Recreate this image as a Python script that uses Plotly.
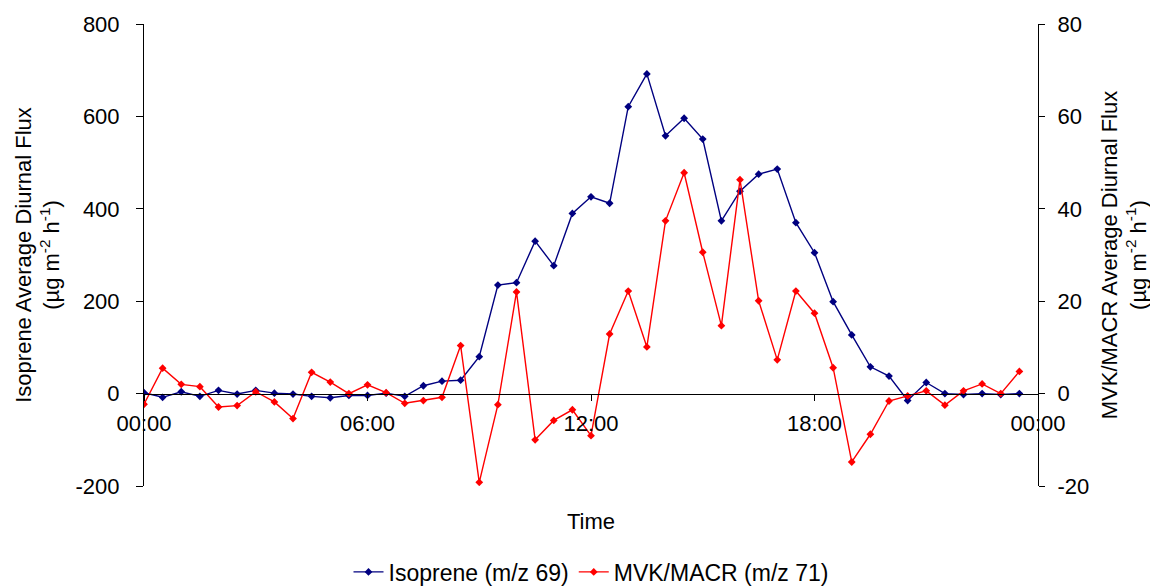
import plotly.graph_objects as go

hours = [0, 0.5, 1, 1.5, 2, 2.5, 3, 3.5, 4, 4.5, 5, 5.5,
         6, 6.5, 7, 7.5, 8, 8.5, 9, 9.5, 10, 10.5, 11, 11.5,
         12, 12.5, 13, 13.5, 14, 14.5, 15, 15.5, 16, 16.5, 17, 17.5,
         18, 18.5, 19, 19.5, 20, 20.5, 21, 21.5, 22, 22.5, 23, 23.5]

isoprene = [2, -8, 4, -6, 7, -1, 7, 1, -1, -6, -9, -4,
            -4, 1, -6, 17, 27, 29, 80, 235, 240, 330, 277, 390,
            426, 412, 621, 692, 558, 596, 551, 374, 438, 475, 486, 370,
            305, 199, 127, 58, 38, -15, 24, 0, -2, 0, -2, 0]

mvk_macr = [-2.3, 5.5, 2.0, 1.5, -2.9, -2.6, 0.4, -1.8, -5.4, 4.6, 2.5, 0.0,
            1.9, 0.2, -2.1, -1.5, -0.8, 10.4, -19.2, -2.4, 22.0, -10.0, -5.8, -3.5,
            -9.1, 12.9, 22.2, 10.1, 37.4, 47.8, 30.6, 14.7, 46.3, 20.1, 7.3, 22.2,
            17.4, 5.6, -14.8, -8.8, -1.6, -0.5, 0.6, -2.5, 0.6, 2.1, 0.0, 4.8]

x_tickvals = [0, 6, 12, 18, 24]
x_ticktext = ["00:00", "06:00", "12:00", "18:00", "00:00"]
y1_tickvals = [-200, 0, 200, 400, 600, 800]
y1_ticktext = ["-200", "0", "200", "400", "600", "800"]
y2_tickvals = [-20, 0, 20, 40, 60, 80]
y2_ticktext = ["-20", "0", "20", "40", "60", "80"]

FONT = "Arial, 'Liberation Sans', sans-serif"
FS = 22

fig = go.Figure()
fig.add_trace(go.Scatter(
    x=hours, y=isoprene, name="Isoprene (m/z 69)", mode="lines+markers",
    line=dict(color="#000080", width=1.4),
    marker=dict(symbol="diamond", size=6, color="#000080"),
    yaxis="y"))
fig.add_trace(go.Scatter(
    x=hours, y=mvk_macr, name="MVK/MACR (m/z 71)", mode="lines+markers",
    line=dict(color="#FF0000", width=1.4),
    marker=dict(symbol="diamond", size=6, color="#FF0000"),
    yaxis="y2"))

fig.update_layout(
    width=1150, height=578,
    margin=dict(l=136, r=120, t=16, b=100, autoexpand=False),
    paper_bgcolor="white", plot_bgcolor="white",
    font=dict(family=FONT, size=FS, color="black"),
    showlegend=True,
    legend=dict(orientation="h", x=0.5, xanchor="center", y=-0.186, yanchor="middle",
                font=dict(size=23), tracegroupgap=0),
    xaxis=dict(range=[0, 24], tickvals=x_tickvals, ticktext=x_ticktext,
               anchor="free", position=0.2, showline=True, linecolor="black", linewidth=1,
               ticks="outside", ticklen=6, tickcolor="black", showgrid=False, zeroline=False,
               tickfont=dict(size=FS), ticklabelstandoff=4, automargin=False),
    yaxis=dict(range=[-200, 800], tickvals=y1_tickvals, ticktext=y1_ticktext,
               showline=True, linecolor="black", linewidth=1, ticks="outside", ticklen=7,
               tickcolor="black", showgrid=False, zeroline=False, tickfont=dict(size=FS),
               ticklabelstandoff=12, automargin=False,
               title=dict(text="Isoprene Average Diurnal Flux<br>(µg m<sup>-2</sup> h<sup>-1</sup>)",
                          font=dict(size=FS), standoff=9)),
    yaxis2=dict(range=[-20, 80], tickvals=y2_tickvals, ticktext=y2_ticktext,
                overlaying="y", side="right",
                anchor="x", showline=True, linecolor="black", linewidth=1, ticks="outside", ticklen=6,
                tickcolor="black", showgrid=False, zeroline=False, tickfont=dict(size=FS),
                ticklabelstandoff=8, automargin=False,
                title=dict(text="MVK/MACR Average Diurnal Flux<br>(µg m<sup>-2</sup> h<sup>-1</sup>)",
                           font=dict(size=FS), standoff=13)),
    annotations=[dict(text="Time", x=0.5, y=-0.076, xref="paper", yref="paper",
                      xanchor="center", yanchor="middle", showarrow=False,
                      font=dict(size=FS))],
)

fig.write_html("out.html")
